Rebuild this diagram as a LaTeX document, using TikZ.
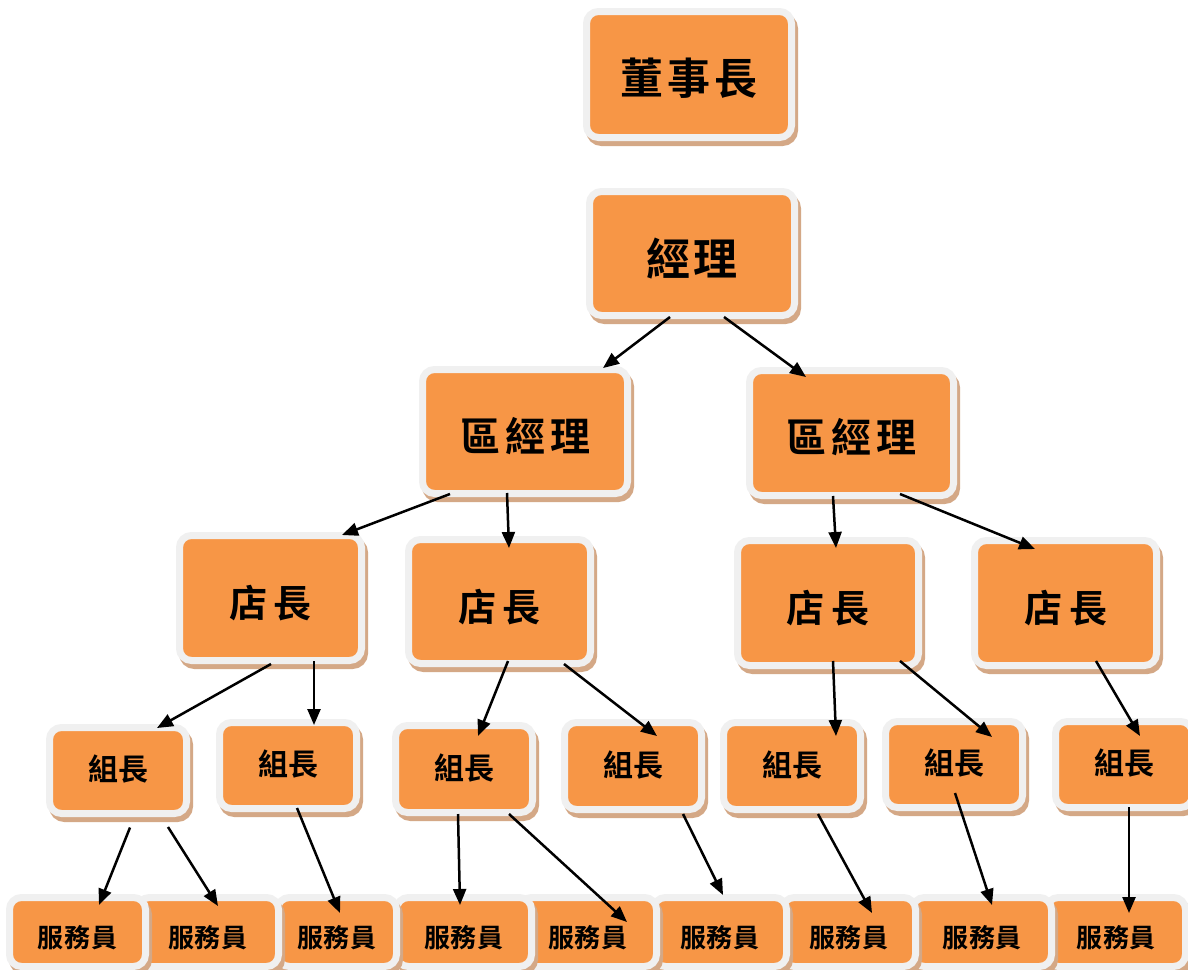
\documentclass[tikz,border=0pt]{standalone}
\usepackage{fontspec}
\newfontfamily\cjk{Noto Sans CJK TC}[UprightFont=* Bold]
\usetikzlibrary{arrows.meta,calc}
\definecolor{boxor}{HTML}{F79646}
\definecolor{boxrim}{HTML}{F0F0F0}
\definecolor{boxsh}{HTML}{D4A886}
\newcommand\kgap[1]{\hspace{#1pt}}
\begin{document}
\begin{tikzpicture}[x=1pt,y=-1pt,
  orgbox/.style 2 args={draw=boxrim, fill=boxor, line width=7pt, rounded corners=12pt,
    inner sep=0pt, minimum width={#1pt+7pt}, minimum height={#2pt+7pt}, text depth=0pt,
    preaction={fill=boxsh, draw=boxsh, line width=7pt, transform canvas={xshift=3pt,yshift=-5pt}}},
  tA/.style={font=\cjk\fontsize{43}{43}\selectfont, text height=39.6pt},
  tB/.style={font=\cjk\fontsize{44}{44}\selectfont, text height=43.4pt},
  tC/.style={font=\cjk\fontsize{40}{40}\selectfont, text height=39.4pt},
  tD/.style={font=\cjk\fontsize{38}{38}\selectfont, text height=39.8pt},
  tE/.style={font=\cjk\fontsize{30}{30}\selectfont, text height=20.8pt},
  tF/.style={font=\cjk\fontsize{26}{26}\selectfont, text height=31.8pt},
  arr/.style={draw=black, line width=2.5pt, -{Triangle[length=16pt,width=13pt]}}]
\useasboundingbox (0,0) rectangle (1188,969);
\clip (0,0) rectangle (1188,969);
\fill[white] (0,0) rectangle (1188,969);

% level 1-2
\node[orgbox={198}{119},tA] (ch) at (689,74.5) {董\kgap{4}事\kgap{4}長};
\node[orgbox={198}{117},tB] (mgr) at (692,253.5) {經\kgap{3}理};
% regional managers
\node[orgbox={198}{117},tC] (rmL) at (525,431.5) {區\kgap{5}經\kgap{5}理};
\node[orgbox={197}{118},tC] (rmR) at (851.5,433) {區\kgap{5}經\kgap{5}理};
% store managers
\node[orgbox={175}{118},tD] (s1) at (270.5,598) {店\kgap{7}長};
\node[orgbox={175}{117},tD] (s2) at (499.5,601.5) {店\kgap{7}長};
\node[orgbox={174}{118},tD] (s3) at (828,603) {店\kgap{7}長};
\node[orgbox={175}{118},tD] (s4) at (1065.5,603) {店\kgap{7}長};
% group leaders
\node[orgbox={130}{79},tE] (L1) at (118,770.5) {組長};
\node[orgbox={130}{79},tE] (L2) at (288,765.5) {組長};
\node[orgbox={130}{80},tE] (L3) at (464,769) {組長};
\node[orgbox={130}{80},tE] (L4) at (633,766) {組長};
\node[orgbox={130}{80},tE] (L5) at (792,766) {組長};
\node[orgbox={130}{79},tE] (L6) at (954,764.5) {組長};
\node[orgbox={130}{79},tE] (L7) at (1124,764.5) {組長};
% staff (drawn right to left)
\node[orgbox={132}{62},tF] (W9) at (1116,932) {服\kgap{1}務\kgap{1}員};
\node[orgbox={132}{62},tF] (W8) at (982,932) {服\kgap{1}務\kgap{1}員};
\node[orgbox={126}{62},tF] (W7) at (849,932) {服\kgap{1}務\kgap{1}員};
\node[orgbox={126}{62},tF] (W6) at (720,932) {服\kgap{1}務\kgap{1}員};
\node[orgbox={130}{62},tF] (W5) at (588,932) {服\kgap{1}務\kgap{1}員};
\node[orgbox={128}{62},tF] (W4) at (464,932) {服\kgap{1}務\kgap{1}員};
\node[orgbox={112}{62},tF] (W3) at (337,932) {服\kgap{1}務\kgap{1}員};
\node[orgbox={134}{62},tF] (W2) at (208,932) {服\kgap{1}務\kgap{1}員};
\node[orgbox={129}{62},tF] (W1) at (77.5,932) {服\kgap{1}務\kgap{1}員};

% connectors
\draw[arr] ([shift={(-22,63.5)}]mgr.center) -- ([shift={(78,-63.5)}]rmL.center);
\draw[arr] ([shift={(32,63.5)}]mgr.center) -- ([shift={(-45.5,-56)}]rmR.center);
\draw[arr] ([shift={(-75,62.5)}]rmL.center) -- ([shift={(71.5,-63)}]s1.center);
\draw[arr] ([shift={(-18,61.5)}]rmL.center) -- ([shift={(9.5,-53.5)}]s2.center);
\draw[arr] ([shift={(-18.5,63)}]rmR.center) -- ([shift={(8,-55)}]s3.center);
\draw[arr] ([shift={(48.5,61)}]rmR.center) -- ([shift={(-30.5,-54)}]s4.center);
\draw[arr] ([shift={(0.5,66)}]s1.center) -- ([shift={(39,-42.5)}]L1.center);
\draw[arr] ([shift={(43.5,63)}]s1.center) -- ([shift={(26,-40.5)}]L2.center);
\draw[arr] ([shift={(8.5,59.5)}]s2.center) -- ([shift={(14,-33)}]L3.center);
\draw[arr] ([shift={(64.5,62.5)}]s2.center) -- ([shift={(24,-30)}]L4.center);
\draw[arr] ([shift={(5,58)}]s3.center) -- ([shift={(44,-30)}]L5.center);
\draw[arr] ([shift={(72,58)}]s3.center) -- ([shift={(38,-27.5)}]L6.center);
\draw[arr] ([shift={(30.5,58)}]s4.center) -- ([shift={(16,-28.5)}]L7.center);
\draw[arr] ([shift={(12,57)}]L1.center) -- ([shift={(21.5,-27)}]W1.center);
\draw[arr] ([shift={(50,56.5)}]L1.center) -- ([shift={(10,-26)}]W2.center);
\draw[arr] ([shift={(9,42.5)}]L2.center) -- ([shift={(3,-19)}]W3.center);
\draw[arr] ([shift={(-6,45)}]L3.center) -- ([shift={(-4,-27)}]W4.center);
\draw[arr] ([shift={(45,45)}]L3.center) -- ([shift={(39,-10)}]W5.center);
\draw[arr] ([shift={(50,48)}]L4.center) -- ([shift={(3,-37)}]W6.center);
\draw[arr] ([shift={(26,48)}]L5.center) -- ([shift={(23,-19)}]W7.center);
\draw[arr] ([shift={(1,28.5)}]L6.center) -- ([shift={(10,-27)}]W8.center);
\draw[arr] ([shift={(5,42.5)}]L7.center) -- ([shift={(13,-19)}]W9.center);
\end{tikzpicture}
\end{document}
